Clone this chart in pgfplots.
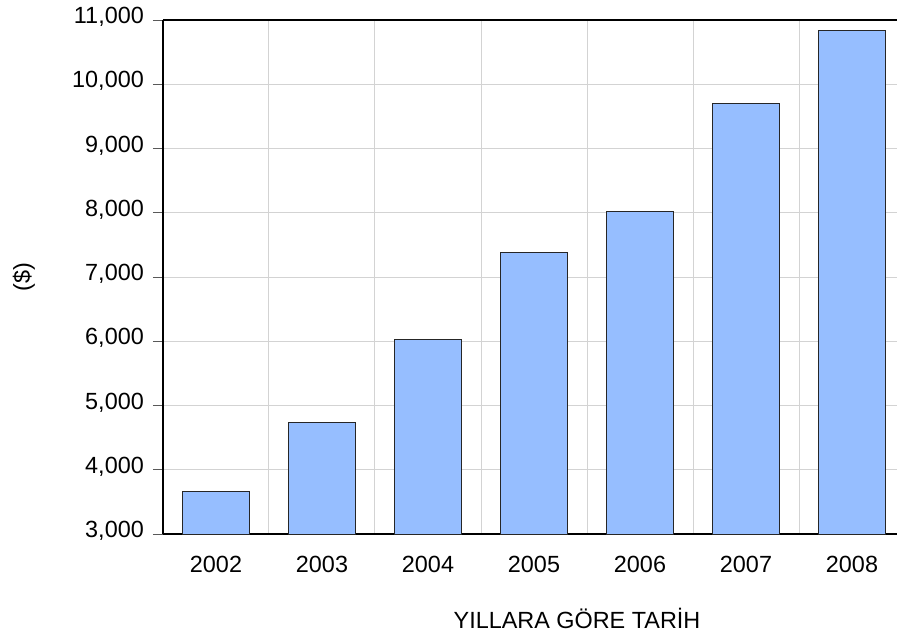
\documentclass[border=0pt]{standalone}
\usepackage{fontspec}
\setmainfont{Liberation Sans}
\usepackage{pgfplots}
\pgfplotsset{compat=1.18}
\definecolor{barblue}{HTML}{96BEFF}
\definecolor{gridgray}{HTML}{D3D3D3}
\newcommand{\bigfont}{\fontsize{23.4}{28}\selectfont}
\begin{document}
\begin{tikzpicture}[x=1pt,y=1pt]
\begin{axis}[
  at={(0pt,0pt)}, anchor=south west,
  scale only axis,
  width=734pt, height=514pt,
  xmin=-0.5, xmax=6.4245,
  ymin=3000, ymax=11000,
  axis x line*=box, axis y line*=left,
  xtick pos=left, ytick pos=left,
  axis line style={black, line width=1.4pt},
  xtick={0,1,2,3,4,5,6},
  xticklabels={2002,2003,2004,2005,2006,2007,2008},
  xtick style={draw=none},
  minor xtick={-0.5,0.5,1.5,2.5,3.5,4.5,5.5},
  minor tick length=10pt,
  major tick length=10pt,
  tick align=outside,
  ytick={3000,4000,5000,6000,7000,8000,9000,10000,11000},
  scaled y ticks=false,
  /pgf/number format/1000 sep={,},
  /pgf/number format/assume math mode=true,
  every tick/.style={black!65, line width=1pt},
  minor x tick style={black!65, line width=1pt},
  ymajorgrids=true, xminorgrids=true,
  grid style={gridgray, line width=1pt},
  tick label style={font=\bigfont},
  xticklabel style={anchor=base, yshift=-28pt},
  yticklabel style={anchor=mid east, inner sep=0pt, xshift=-9pt, yshift=-1pt},
  xlabel={YILLARA GÖRE TARİH},
  xlabel style={font=\bigfont, at={(axis description cs:0,0)}, anchor=base, xshift=414pt, yshift=-94pt},
  ylabel={(\$)},
  ylabel style={font=\bigfont, at={([xshift=-139pt]axis description cs:0,0.5)}, anchor=center},
  ybar, bar width=67pt, bar shift=0pt,
]
\addplot[fill=barblue, draw=black!85, line width=1pt] coordinates {
  (0,3658) (1,4728) (2,6035) (3,7374) (4,8027) (5,9708) (6,10844)
};
\end{axis}
\pgfresetboundingbox
\useasboundingbox (-163pt,-101pt) rectangle (734pt,534pt);
\end{tikzpicture}
\end{document}
